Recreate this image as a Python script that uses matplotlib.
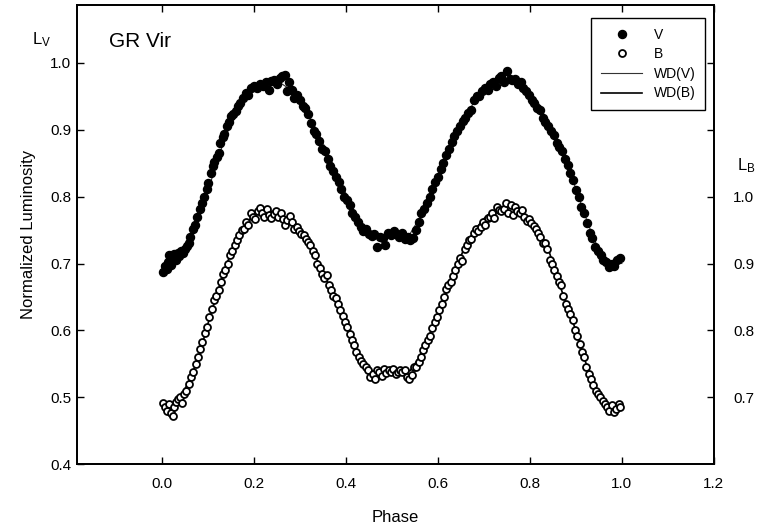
import matplotlib
matplotlib.use("Agg")
import matplotlib.pyplot as plt
from matplotlib.lines import Line2D

plt.rcParams["font.family"] = ["Liberation Sans", "DejaVu Sans"]

# observed V light curve
v_phase = [0.003, 0.006, 0.010, 0.013, 0.016, 0.020, 0.023, 0.027, 0.030, 0.034,
           0.038, 0.042, 0.046, 0.050, 0.054, 0.058, 0.062, 0.067, 0.072, 0.077,
           0.082, 0.087, 0.092, 0.097, 0.101, 0.106, 0.110, 0.114, 0.119, 0.123,
           0.127, 0.132, 0.136, 0.141, 0.145, 0.150, 0.155, 0.160, 0.165, 0.170,
           0.176, 0.182, 0.188, 0.194, 0.200, 0.207, 0.214, 0.220, 0.226, 0.232,
           0.238, 0.244, 0.250, 0.256, 0.262, 0.268, 0.272, 0.276, 0.282, 0.288,
           0.294, 0.300, 0.306, 0.312, 0.318, 0.324, 0.330, 0.336, 0.342, 0.348,
           0.354, 0.360, 0.366, 0.372, 0.378, 0.384, 0.390, 0.396, 0.402, 0.408,
           0.414, 0.420, 0.426, 0.432, 0.438, 0.444, 0.450, 0.456, 0.462, 0.468,
           0.474, 0.480, 0.486, 0.492, 0.498, 0.504, 0.510, 0.516, 0.522, 0.528,
           0.534, 0.540, 0.546, 0.552, 0.558, 0.564, 0.570, 0.576, 0.582, 0.588,
           0.594, 0.600, 0.606, 0.612, 0.618, 0.624, 0.630, 0.636, 0.642, 0.648,
           0.654, 0.660, 0.666, 0.672, 0.678, 0.684, 0.690, 0.696, 0.702, 0.708,
           0.714, 0.720, 0.726, 0.732, 0.738, 0.744, 0.750, 0.756, 0.762, 0.768,
           0.774, 0.780, 0.786, 0.792, 0.798, 0.804, 0.810, 0.816, 0.822, 0.828,
           0.834, 0.840, 0.846, 0.852, 0.858, 0.864, 0.870, 0.876, 0.882, 0.888,
           0.894, 0.900, 0.906, 0.912, 0.918, 0.924, 0.930, 0.936, 0.942, 0.948,
           0.954, 0.960, 0.966, 0.972, 0.978, 0.984, 0.990, 0.996]
v_lum = [0.688, 0.697, 0.692, 0.703, 0.712, 0.698, 0.710, 0.714, 0.705, 0.716,
         0.711, 0.719, 0.716, 0.722, 0.726, 0.731, 0.740, 0.752, 0.758, 0.770,
         0.782, 0.790, 0.800, 0.812, 0.820, 0.835, 0.846, 0.852, 0.860, 0.866,
         0.880, 0.889, 0.893, 0.905, 0.912, 0.920, 0.924, 0.928, 0.936, 0.940,
         0.947, 0.955, 0.952, 0.962, 0.965, 0.962, 0.968, 0.966, 0.971, 0.960,
         0.973, 0.975, 0.968, 0.977, 0.980, 0.982, 0.958, 0.972, 0.960, 0.947,
         0.952, 0.944, 0.935, 0.932, 0.924, 0.910, 0.898, 0.893, 0.884, 0.872,
         0.868, 0.856, 0.846, 0.838, 0.830, 0.822, 0.812, 0.800, 0.795, 0.788,
         0.775, 0.770, 0.762, 0.755, 0.748, 0.752, 0.744, 0.741, 0.744, 0.725,
         0.740, 0.738, 0.728, 0.745, 0.742, 0.748, 0.744, 0.740, 0.745, 0.737,
         0.740, 0.735, 0.738, 0.750, 0.762, 0.775, 0.782, 0.790, 0.800, 0.812,
         0.822, 0.830, 0.842, 0.850, 0.862, 0.872, 0.882, 0.891, 0.898, 0.906,
         0.913, 0.918, 0.925, 0.930, 0.945, 0.950, 0.951, 0.958, 0.962, 0.960,
         0.968, 0.972, 0.965, 0.978, 0.980, 0.972, 0.988, 0.976, 0.974, 0.976,
         0.968, 0.972, 0.962, 0.958, 0.952, 0.945, 0.940, 0.932, 0.930, 0.918,
         0.912, 0.906, 0.898, 0.892, 0.880, 0.875, 0.868, 0.856, 0.848, 0.835,
         0.825, 0.810, 0.800, 0.785, 0.776, 0.760, 0.745, 0.738, 0.725, 0.718,
         0.712, 0.705, 0.702, 0.695, 0.700, 0.696, 0.705, 0.708]

# observed B light curve (plotted on the left scale, B axis offset by +0.2)
b_phase = [0.003, 0.007, 0.011, 0.015, 0.019, 0.023, 0.027, 0.031, 0.035, 0.040,
           0.044, 0.048, 0.053, 0.058, 0.063, 0.068, 0.073, 0.078, 0.083, 0.088,
           0.093, 0.098, 0.103, 0.108, 0.113, 0.118, 0.123, 0.128, 0.133, 0.138,
           0.143, 0.148, 0.153, 0.158, 0.163, 0.168, 0.173, 0.178, 0.183, 0.188,
           0.193, 0.198, 0.203, 0.208, 0.213, 0.218, 0.223, 0.228, 0.233, 0.238,
           0.243, 0.248, 0.253, 0.258, 0.263, 0.268, 0.273, 0.278, 0.283, 0.288,
           0.293, 0.298, 0.303, 0.308, 0.313, 0.318, 0.323, 0.328, 0.333, 0.338,
           0.343, 0.348, 0.353, 0.358, 0.363, 0.368, 0.373, 0.378, 0.383, 0.388,
           0.393, 0.398, 0.403, 0.408, 0.413, 0.418, 0.423, 0.428, 0.433, 0.438,
           0.443, 0.448, 0.453, 0.458, 0.463, 0.468, 0.473, 0.478, 0.483, 0.488,
           0.493, 0.498, 0.503, 0.508, 0.513, 0.518, 0.523, 0.528, 0.533, 0.538,
           0.543, 0.548, 0.553, 0.558, 0.563, 0.568, 0.573, 0.578, 0.583, 0.588,
           0.593, 0.598, 0.603, 0.608, 0.613, 0.618, 0.623, 0.628, 0.633, 0.638,
           0.643, 0.648, 0.653, 0.658, 0.663, 0.668, 0.673, 0.678, 0.683, 0.688,
           0.693, 0.698, 0.703, 0.708, 0.713, 0.718, 0.723, 0.728, 0.733, 0.738,
           0.743, 0.748, 0.753, 0.758, 0.763, 0.768, 0.773, 0.778, 0.783, 0.788,
           0.793, 0.798, 0.803, 0.808, 0.813, 0.818, 0.823, 0.828, 0.833, 0.838,
           0.843, 0.848, 0.853, 0.858, 0.863, 0.868, 0.873, 0.878, 0.883, 0.888,
           0.893, 0.898, 0.903, 0.908, 0.913, 0.918, 0.923, 0.928, 0.933, 0.938,
           0.943, 0.948, 0.953, 0.958, 0.963, 0.968, 0.973, 0.978, 0.983, 0.988,
           0.993, 0.997]
b_lum = [0.492, 0.485, 0.480, 0.490, 0.476, 0.472, 0.486, 0.493, 0.498, 0.500,
         0.492, 0.505, 0.510, 0.520, 0.530, 0.538, 0.550, 0.560, 0.572, 0.583,
         0.596, 0.605, 0.620, 0.632, 0.645, 0.652, 0.660, 0.672, 0.684, 0.690,
         0.700, 0.712, 0.718, 0.728, 0.735, 0.742, 0.750, 0.752, 0.762, 0.758,
         0.775, 0.770, 0.766, 0.778, 0.783, 0.776, 0.770, 0.782, 0.772, 0.768,
         0.774, 0.778, 0.770, 0.775, 0.766, 0.758, 0.765, 0.771, 0.762, 0.752,
         0.755, 0.748, 0.744, 0.742, 0.736, 0.732, 0.728, 0.718, 0.712, 0.700,
         0.694, 0.685, 0.678, 0.683, 0.668, 0.660, 0.652, 0.648, 0.640, 0.630,
         0.622, 0.612, 0.605, 0.595, 0.585, 0.578, 0.568, 0.560, 0.554, 0.550,
         0.545, 0.540, 0.530, 0.535, 0.528, 0.540, 0.537, 0.532, 0.542, 0.536,
         0.540, 0.538, 0.542, 0.535, 0.538, 0.541, 0.537, 0.540, 0.530, 0.527,
         0.533, 0.545, 0.545, 0.552, 0.560, 0.570, 0.578, 0.585, 0.592, 0.603,
         0.612, 0.620, 0.630, 0.640, 0.650, 0.662, 0.668, 0.672, 0.682, 0.690,
         0.700, 0.708, 0.704, 0.722, 0.728, 0.735, 0.737, 0.745, 0.752, 0.748,
         0.755, 0.762, 0.758, 0.768, 0.770, 0.775, 0.768, 0.784, 0.780, 0.778,
         0.782, 0.790, 0.776, 0.788, 0.772, 0.785, 0.778, 0.775, 0.780, 0.770,
         0.764, 0.766, 0.760, 0.756, 0.752, 0.745, 0.740, 0.730, 0.730, 0.722,
         0.705, 0.700, 0.690, 0.682, 0.672, 0.668, 0.652, 0.640, 0.632, 0.625,
         0.615, 0.600, 0.592, 0.580, 0.568, 0.560, 0.545, 0.535, 0.528, 0.518,
         0.510, 0.505, 0.500, 0.495, 0.490, 0.485, 0.480, 0.488, 0.478, 0.482,
         0.490, 0.485]

# WD model curves
wd_phase = [0.00, 0.02, 0.04, 0.06, 0.08, 0.10, 0.12, 0.14, 0.16, 0.18,
            0.20, 0.22, 0.24, 0.26, 0.28, 0.30, 0.32, 0.34, 0.36, 0.38,
            0.40, 0.42, 0.44, 0.46, 0.48, 0.50, 0.52, 0.54, 0.56, 0.58,
            0.60, 0.62, 0.64, 0.66, 0.68, 0.70, 0.72, 0.74, 0.76, 0.78,
            0.80, 0.82, 0.84, 0.86, 0.88, 0.90, 0.92, 0.94, 0.96, 0.98, 1.00]
wd_v = [0.698, 0.703, 0.712, 0.732, 0.765, 0.808, 0.853, 0.893, 0.922, 0.944,
        0.958, 0.967, 0.971, 0.969, 0.960, 0.943, 0.921, 0.895, 0.866, 0.835,
        0.805, 0.775, 0.752, 0.744, 0.741, 0.741, 0.742, 0.745, 0.768, 0.795,
        0.828, 0.862, 0.893, 0.920, 0.943, 0.960, 0.970, 0.975, 0.975, 0.970,
        0.958, 0.938, 0.910, 0.880, 0.850, 0.812, 0.772, 0.735, 0.712, 0.702, 0.700]
wd_b = [0.487, 0.490, 0.500, 0.525, 0.560, 0.610, 0.655, 0.698, 0.732, 0.757,
        0.773, 0.779, 0.778, 0.772, 0.762, 0.748, 0.730, 0.702, 0.672, 0.642,
        0.608, 0.572, 0.548, 0.538, 0.535, 0.535, 0.536, 0.540, 0.560, 0.590,
        0.625, 0.660, 0.695, 0.727, 0.750, 0.767, 0.778, 0.785, 0.784, 0.777,
        0.765, 0.747, 0.722, 0.678, 0.638, 0.600, 0.555, 0.515, 0.494, 0.487, 0.486]

x_ticks = [0.0, 0.2, 0.4, 0.6, 0.8, 1.0, 1.2]
y_ticks = [0.4, 0.5, 0.6, 0.7, 0.8, 0.9, 1.0]
b_ticks = [0.7, 0.8, 0.9, 1.0]

fig = plt.figure(figsize=(7.61, 5.31), dpi=100)
ax = fig.add_axes([0.101, 0.126, 0.837, 0.865])

ax.plot(wd_phase, wd_v, color="#333333", lw=0.8, zorder=2)
ax.plot(wd_phase, wd_b, color="black", lw=1.2, zorder=2)
ax.plot(v_phase, v_lum, "o", ms=5.8, color="black", mec="black", zorder=3)
ax.plot(b_phase, b_lum, "o", ms=5.0, mfc="white", mec="black", mew=1.3, zorder=3)

ax.set_xlim(-0.185, 1.2)
ax.set_ylim(0.4, 1.087)
ax.set_xticks(x_ticks)
ax.set_xticklabels(["%.1f" % t for t in x_ticks])
ax.set_yticks(y_ticks)
ax.set_yticklabels(["%.1f" % t for t in y_ticks])
ax.tick_params(direction="in", length=5, width=1, labelsize=11, top=True, right=False)
ax.tick_params(axis="x", pad=9)
ax.tick_params(axis="y", pad=4)
for sp in ax.spines.values():
    sp.set_linewidth(1.3)

ax.set_xlabel("Phase", fontsize=12, labelpad=14)
ax.set_ylabel("Normalized Luminosity", fontsize=12, labelpad=10)
ax.text(0.05, 0.94, "GR Vir", fontsize=15, transform=ax.transAxes, va="top")

# right-hand B scale (offset +0.2 from the V scale)
ax2 = ax.twinx()
ax2.set_ylim(0.6, 1.287)
ax2.set_yticks(b_ticks + [1.1, 1.2])
ax2.set_yticklabels(["%.1f" % t for t in b_ticks] + ["", ""])
ax2.tick_params(direction="in", length=5, width=1, labelsize=11, pad=14)
for sp in ax2.spines.values():
    sp.set_linewidth(1.3)

fig.text(32 / 761, 1 - 44 / 531, r"$\mathregular{L_V}$", fontsize=12)
fig.text(737 / 761, 1 - 170 / 531, r"$\mathregular{L_B}$", fontsize=12)

handles = [
    Line2D([], [], ls="none", marker="o", ms=5.8, color="black"),
    Line2D([], [], ls="none", marker="o", ms=5.0, mfc="white", mec="black", mew=1.3),
    Line2D([], [], color="#333333", lw=0.8),
    Line2D([], [], color="black", lw=1.2),
]
leg = ax.legend(handles, ["V", "B", "WD(V)", "WD(B)"], loc="upper right",
                bbox_to_anchor=(705 / 761, 1 - 18 / 531), bbox_transform=fig.transFigure,
                borderaxespad=0, fontsize=10, fancybox=False, framealpha=1,
                edgecolor="black", handlelength=3.0, labelspacing=0.4,
                handletextpad=0.8, borderpad=0.7, numpoints=1)
leg.get_frame().set_linewidth(1.0)

fig.savefig("out.png", dpi=100)
